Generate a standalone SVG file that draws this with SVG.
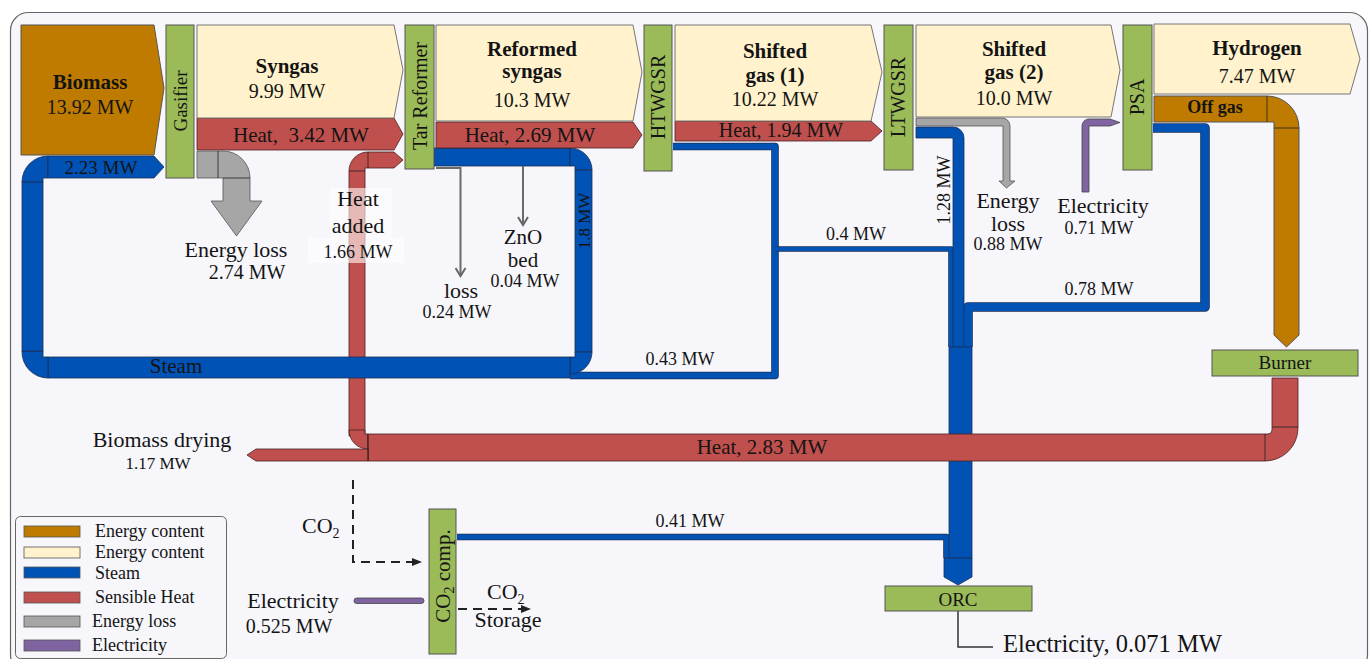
<svg xmlns="http://www.w3.org/2000/svg" width="1371" height="659" viewBox="0 0 1371 659">
<defs>
<style>
text{font-family:"Liberation Serif","Times New Roman",serif;fill:#141414}
.b{font-weight:bold}
.m{text-anchor:middle}
.or{fill:#bf7b00;stroke:#555;stroke-width:1}
.cr{fill:#fff2cc;stroke:#777;stroke-width:1}
.bl{fill:#0052b4;stroke:#1f2f55;stroke-width:0.8}
.rd{fill:#c0504d;stroke:#4a2020;stroke-width:0.8}
.gy{fill:#a6a6a6;stroke:#555;stroke-width:0.8}
.pu{fill:#8064a2;stroke:#444;stroke-width:0.8}
.gr{fill:#9bbb59;stroke:#555;stroke-width:1}
.sep{stroke:#222;stroke-width:0.8;fill:none}
.lo{fill:none;stroke:#1f2f55;stroke-linejoin:round}
.li{fill:none;stroke:#0052b4;stroke-linejoin:round}
.gl{fill:none;stroke:#6a6a6a;stroke-width:2}
.da{fill:none;stroke:#222;stroke-width:2;stroke-dasharray:9 6}
</style>
<marker id="chev" markerUnits="userSpaceOnUse" viewBox="0 0 12 12" refX="10" refY="6" markerWidth="12" markerHeight="12" orient="auto">
<path d="M2,1 L10,6 L2,11" fill="none" stroke="#666" stroke-width="2"/>
</marker>
<marker id="tri" markerUnits="userSpaceOnUse" viewBox="0 0 10 8" refX="9" refY="4" markerWidth="10" markerHeight="8" orient="auto">
<path d="M0,0 L10,4 L0,8 Z" fill="#222"/>
</marker>
</defs>

<rect x="0" y="0" width="1371" height="659" fill="#ffffff"/>
<rect x="10.5" y="12.5" width="1357" height="660" rx="18" fill="#f6f6fb" stroke="#666" stroke-width="1.2"/>

<g id="connectors">
  <!-- heat added (red) vertical -->
  <path class="rd" d="M349,436 V171 A19,19 0 0 1 368,152 H394 L403,160 L394,168 H365 V436 Z"/>
  <path class="sep" d="M368,152 V168 M349,171 H365"/>
  <path class="rd" d="M349,430 A19,19 0 0 0 368,449 V434 H365 V430 Z"/>
  <rect x="330" y="188" width="62" height="50" fill="#ffffff" fill-opacity="0.6"/>
  <rect x="308" y="238" width="96" height="25" fill="#ffffff" fill-opacity="0.6"/>

  <!-- thin steam lines -->
  <path class="lo" stroke-width="7.6" d="M673,146.5 H775 V375.5 H570"/>
  <path class="li" stroke-width="6" d="M673,146.5 H775 V375.5 H570"/>
  <path class="lo" stroke-width="5.6" d="M775,249 H951 V347"/>
  <path class="li" stroke-width="4" d="M775,249 H951 V347"/>
  <path class="lo" stroke-width="9.6" d="M1153,128 H1205 V307 H968 V347"/>
  <path class="li" stroke-width="8" d="M1153,128 H1205 V307 H968 V347"/>
  <path class="lo" stroke-width="6.6" d="M457,537 H946.5 V558"/>
  <path class="li" stroke-width="5" d="M457,537 H946.5 V558"/>

  <!-- 1.28 MW steam -->
  <path class="bl" d="M916,127 H953 A11,11 0 0 1 964,138 V347 H953 V138 H916 Z"/>
  <!-- combined to ORC -->
  <rect class="bl" x="949" y="347" width="23" height="211"/>
  <path class="bl" d="M944,558 H972 V577 L958,585 L944,577 Z"/>

  <!-- steam loop -->
  <rect class="bl" x="434" y="148" width="136" height="18"/>
  <path class="bl" d="M570,148 A22,22 0 0 1 592,170 H575 V166 H570 Z"/>
  <rect class="bl" x="575" y="170" width="17" height="182"/>
  <path class="bl" d="M570,357 H575 V352 H592 A22,22 0 0 1 570,374 Z"/>
  <rect class="bl" x="48" y="357" width="522" height="21"/>
  <path class="bl" d="M22,351 H43 V357 H48 V378 A26,26 0 0 1 22,351 Z"/>
  <rect class="bl" x="22" y="182" width="21" height="169"/>
  <path class="bl" d="M22,182 A26,26 0 0 1 48,156 V178 H43 V182 Z"/>
  <path class="bl" d="M48,156 H154 L164,167 L154,178 H48 Z"/>

  <!-- heat 2.83 MW -->
  <path class="rd" d="M368,434 H1268 A4,4 0 0 0 1272,430 V378 H1298 V428 A33,33 0 0 1 1265,461 H368 Z"/>
  <path class="sep" d="M1265,434 V461 M1272,427 H1298"/>
  <path class="rd" d="M368,449 V461 H256 L247,455 L256,449 Z"/>
  <path class="sep" d="M368,434 V461"/>

  <!-- gasifier heat / energy loss -->
  <path class="rd" d="M197,118 H394 L403,134 L394,150 H197 Z"/>
  <path class="gy" d="M197,151 H223 A27,27 0 0 1 250,178 V201 H262 L236.5,236 L211,201 H223 V178 H197 Z"/>
  <path class="sep" d="M218,151 V178 M223,178 H250"/>

  <!-- reformer heat -->
  <path class="rd" d="M436,122 H633 L642,135 L633,148 H436 Z"/>
  <!-- HTWGSR heat -->
  <path class="rd" d="M675,121 H871 L882,131 L871,141 H675 Z"/>

  <!-- LTWGSR energy loss -->
  <path class="gy" d="M916,118 H1002 A8,8 0 0 1 1010,126 V181 H1015 L1006.5,188 L999,181 H1003 V126 H916 Z"/>
  <!-- PSA electricity -->
  <path class="pu" d="M1082,192 V126 A7,7 0 0 1 1089,119 H1110 L1120,122.5 L1110,126 H1089 V192 Z"/>

  <!-- off gas -->
  <path class="or" d="M1154,96 H1267 A32,32 0 0 1 1299,128 V335 L1286.5,347 L1274,335 V122 H1154 Z"/>
  <path class="sep" d="M1267,96 V122 M1274,128 H1299"/>

  <!-- small gray losses at tar reformer -->
  <path class="gl" d="M436,168 H460.5 V276" marker-end="url(#chev)"/>
  <path class="gl" d="M523,166 V225" marker-end="url(#chev)"/>

  <!-- CO2 compression -->
  <path class="da" d="M353,480 V562 H421" marker-end="url(#tri)"/>
  <path class="da" d="M458,609 H530" marker-end="url(#tri)"/>
  <rect class="pu" x="354" y="598" width="70" height="5.5" rx="2.7"/>

  <!-- ORC electricity -->
  <path d="M958,611 V647 H993" fill="none" stroke="#333" stroke-width="1.5"/>

  <!-- flow labels -->
  <text class="m" x="101" y="174" font-size="19">2.23 MW</text>
  <text class="m" x="301" y="142" font-size="21">Heat,&#160; 3.42 MW</text>
  <text class="m" x="236" y="257" font-size="22">Energy loss</text>
  <text class="m" x="247" y="279" font-size="20">2.74 MW</text>
  <text class="m" x="358" y="206" font-size="22">Heat</text>
  <text class="m" x="358" y="233" font-size="22">added</text>
  <text class="m" x="358" y="258" font-size="18">1.66 MW</text>
  <text class="m" x="530" y="142" font-size="21">Heat, 2.69 MW</text>
  <text class="m" x="461" y="298" font-size="22">loss</text>
  <text class="m" x="457" y="318" font-size="18">0.24 MW</text>
  <text class="m" x="523" y="244" font-size="21">ZnO</text>
  <text class="m" x="523" y="267" font-size="21">bed</text>
  <text class="m" x="525" y="287" font-size="18">0.04 MW</text>
  <text class="m" font-size="17" transform="translate(584,221) rotate(-90)" dy="0.35em">1.8 MW</text>
  <text class="m" x="176" y="373" font-size="21">Steam</text>
  <text class="m" x="680" y="365" font-size="18">0.43 MW</text>
  <text class="m" x="781" y="137" font-size="20">Heat, 1.94 MW</text>
  <text class="m" x="856" y="240" font-size="18">0.4 MW</text>
  <text class="m" font-size="18" transform="translate(944,190) rotate(-90)" dy="0.35em">1.28 MW</text>
  <text class="m" x="1008" y="208" font-size="22">Energy</text>
  <text class="m" x="1008" y="231" font-size="22">loss</text>
  <text class="m" x="1008" y="250" font-size="18">0.88 MW</text>
  <text class="m" x="1103" y="213" font-size="22">Electricity</text>
  <text class="m" x="1099" y="234" font-size="18">0.71 MW</text>
  <text class="m" x="1099" y="295" font-size="18">0.78 MW</text>
  <text class="m b" x="1215" y="113" font-size="18">Off gas</text>
  <text class="m" x="162" y="447" font-size="22">Biomass drying</text>
  <text class="m" x="158" y="469" font-size="17">1.17 MW</text>
  <text class="m" x="762" y="454" font-size="21">Heat, 2.83 MW</text>
  <text x="302" y="533" font-size="22">CO<tspan font-size="14" dy="5">2</tspan></text>
  <text class="m" x="690" y="527" font-size="18">0.41 MW</text>
  <text class="m" x="293" y="608" font-size="22">Electricity</text>
  <text class="m" x="289" y="633" font-size="20">0.525 MW</text>
  <text x="487" y="599" font-size="22">CO<tspan font-size="14" dy="5">2</tspan></text>
  <text class="m" x="508" y="627" font-size="22">Storage</text>
  <text x="1003" y="652" font-size="24.5">Electricity, 0.071 MW</text>
</g>

<g id="biomass">
  <path class="or" d="M21,25 H154 L164,88 L154,155 H21 Z"/>
  <text class="m b" x="90" y="89" font-size="21">Biomass</text>
  <text class="m" x="90" y="114" font-size="20">13.92 MW</text>
</g>
<g id="gasifier">
  <rect class="gr" x="166" y="25" width="28" height="153"/>
  <text class="m" font-size="19" transform="translate(180,101) rotate(-90)" dy="0.35em">Gasifier</text>
</g>
<g id="syngas">
  <path class="cr" d="M197,25 H394 L403,70 L394,118 H197 Z"/>
  <text class="m b" x="287" y="73" font-size="21">Syngas</text>
  <text class="m" x="287" y="98" font-size="20">9.99 MW</text>
</g>
<g id="tar-reformer">
  <rect class="gr" x="405" y="25" width="29" height="144"/>
  <text class="m" font-size="20" transform="translate(420,96) rotate(-90)" dy="0.35em">Tar Reformer</text>
</g>
<g id="reformed-syngas">
  <path class="cr" d="M436,25 H633 L642,72 L633,121 H436 Z"/>
  <text class="m b" x="532" y="56" font-size="21">Reformed</text>
  <text class="m b" x="532" y="78" font-size="21">syngas</text>
  <text class="m" x="532" y="107" font-size="20">10.3 MW</text>
</g>
<g id="htwgsr">
  <rect class="gr" x="644" y="25" width="28" height="146"/>
  <text class="m" font-size="20" transform="translate(658,97) rotate(-90)" dy="0.35em">HTWGSR</text>
</g>
<g id="shifted-gas-1">
  <path class="cr" d="M675,25 H871 L882,72 L871,121 H675 Z"/>
  <text class="m b" x="775" y="58" font-size="21">Shifted</text>
  <text class="m b" x="775" y="82" font-size="21">gas (1)</text>
  <text class="m" x="775" y="106" font-size="20">10.22 MW</text>
</g>
<g id="ltwgsr">
  <rect class="gr" x="884" y="25" width="29" height="145"/>
  <text class="m" font-size="20" transform="translate(898,97) rotate(-90)" dy="0.35em">LTWGSR</text>
</g>
<g id="shifted-gas-2">
  <path class="cr" d="M916,25 H1111 L1120,70 L1111,117 H916 Z"/>
  <text class="m b" x="1014" y="56" font-size="21">Shifted</text>
  <text class="m b" x="1014" y="79" font-size="21">gas (2)</text>
  <text class="m" x="1014" y="105" font-size="20">10.0 MW</text>
</g>
<g id="psa">
  <rect class="gr" x="1123" y="25" width="29" height="145"/>
  <text class="m" font-size="20" transform="translate(1137,97) rotate(-90)" dy="0.35em">PSA</text>
</g>
<g id="hydrogen">
  <path class="cr" d="M1154,24 H1350 L1360,59 L1350,94 H1154 Z"/>
  <text class="m b" x="1257" y="55" font-size="21">Hydrogen</text>
  <text class="m" x="1257" y="83" font-size="20">7.47 MW</text>
</g>
<g id="burner">
  <rect class="gr" x="1212" y="350" width="146" height="26"/>
  <text class="m" x="1285" y="369" font-size="19">Burner</text>
</g>
<g id="orc">
  <rect class="gr" x="885" y="586" width="147" height="25"/>
  <text class="m" x="958" y="606" font-size="19">ORC</text>
</g>
<g id="co2-comp">
  <rect class="gr" x="429" y="509" width="27" height="145"/>
  <text class="m" font-size="21" transform="translate(443,576) rotate(-90)" dy="0.35em">CO<tspan font-size="14" dy="4">2</tspan><tspan dy="-4"> comp.</tspan></text>
</g>

<g id="legend">
  <rect x="15.5" y="516.5" width="211" height="142" rx="5" fill="#f6f6fb" stroke="#666" stroke-width="1"/>
  <rect x="24" y="526" width="56" height="11" fill="#bf7b00" stroke="#555" stroke-width="0.8"/>
  <rect x="24" y="547" width="56" height="11" fill="#fff2cc" stroke="#555" stroke-width="0.8"/>
  <rect x="24" y="567" width="56" height="11" fill="#0052b4" stroke="#555" stroke-width="0.8"/>
  <rect x="24" y="592" width="56" height="11" fill="#c0504d" stroke="#555" stroke-width="0.8"/>
  <rect x="24" y="616" width="56" height="11" fill="#a6a6a6" stroke="#555" stroke-width="0.8"/>
  <rect x="24" y="640" width="56" height="11" fill="#8064a2" stroke="#555" stroke-width="0.8"/>
  <text x="95" y="537" font-size="18">Energy content</text>
  <text x="95" y="558" font-size="18">Energy content</text>
  <text x="95" y="579" font-size="18">Steam</text>
  <text x="95" y="603" font-size="18">Sensible Heat</text>
  <text x="92" y="627" font-size="18">Energy loss</text>
  <text x="92" y="651" font-size="18">Electricity</text>
</g>
</svg>
